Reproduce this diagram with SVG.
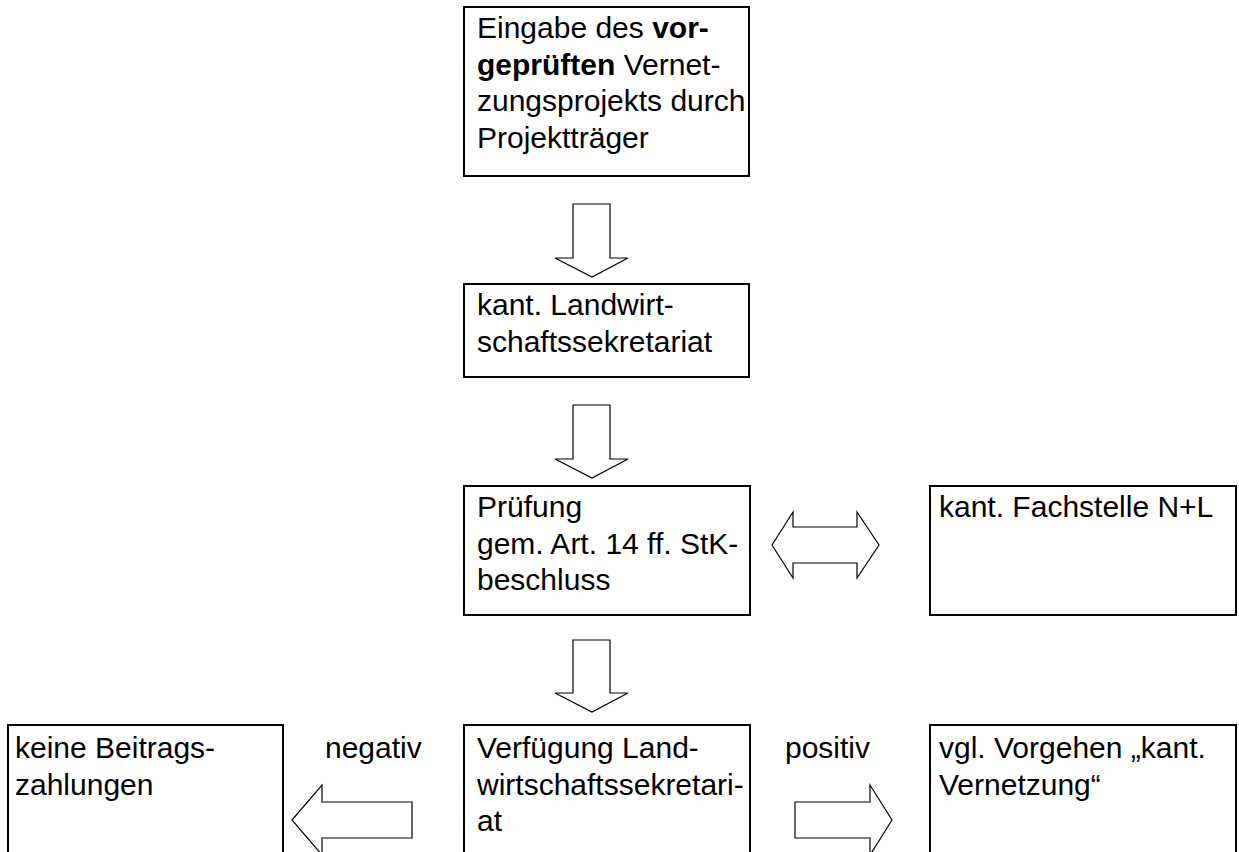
<svg xmlns="http://www.w3.org/2000/svg" width="1239" height="852" viewBox="0 0 1239 852">
<style>
.box{fill:#fff;stroke:#000;stroke-width:2}
.arr{fill:#fff;stroke:#000;stroke-width:1.2;stroke-linejoin:miter}
text{font-family:"Liberation Sans",Arial,sans-serif;font-size:30px;fill:#000}
.b{font-weight:bold}
</style>
<rect width="1239" height="852" fill="#fff"/>
<g id="connectors">
<polygon class="arr" points="573,204 610,204 610,258 628,258 592,277 555,258 573,258"/>
<polygon class="arr" points="573,405 610,405 610,459 628,459 592,478 555,459 573,459"/>
<polygon class="arr" points="772,545 793,512 793,527 857,527 857,512 879,545 857,578 857,563 793,563 793,578"/>
<polygon class="arr" points="573,640 610,640 610,693 628,693 592,712 555,693 573,693"/>
<polygon class="arr" points="292,820 322,785 322,802 412,802 412,838 322,838 322,855"/>
<polygon class="arr" points="892,820 870,785 870,802 795,802 795,838 870,838 870,855"/>
<text x="325" y="758">negativ</text>
<text x="785" y="758">positiv</text>
</g>
<g id="n1">
<rect class="box" x="464" y="7" width="285" height="169"/>
<text x="477" y="38">Eingabe des <tspan class="b">vor-</tspan></text>
<text x="477" y="74.5"><tspan class="b">geprüften</tspan> Vernet-</text>
<text x="477" y="111">zungsprojekts durch</text>
<text x="477" y="147.5">Projektträger</text>
</g>
<g id="n2">
<rect class="box" x="464" y="284" width="285" height="93"/>
<text x="477" y="315">kant. Landwirt-</text>
<text x="477" y="352">schaftssekretariat</text>
</g>
<g id="n3">
<rect class="box" x="464" y="486" width="286" height="129"/>
<text x="477" y="517">Prüfung</text>
<text x="477" y="554">gem. Art. 14 ff. StK-</text>
<text x="477" y="590">beschluss</text>
</g>
<g id="n4">
<rect class="box" x="930" y="486" width="306" height="129"/>
<text x="939" y="517">kant. Fachstelle N+L</text>
</g>
<g id="n5">
<rect class="box" x="8" y="725" width="275" height="140"/>
<text x="15" y="758">keine Beitrags-</text>
<text x="15" y="795">zahlungen</text>
</g>
<g id="n6">
<rect class="box" x="464" y="725" width="286" height="140"/>
<text x="477" y="758">Verfügung Land-</text>
<text x="477" y="795">wirtschaftssekretari-</text>
<text x="477" y="831">at</text>
</g>
<g id="n7">
<rect class="box" x="930" y="725" width="306" height="140"/>
<text x="939" y="758">vgl. Vorgehen „kant.</text>
<text x="939" y="795">Vernetzung“</text>
</g>
</svg>
